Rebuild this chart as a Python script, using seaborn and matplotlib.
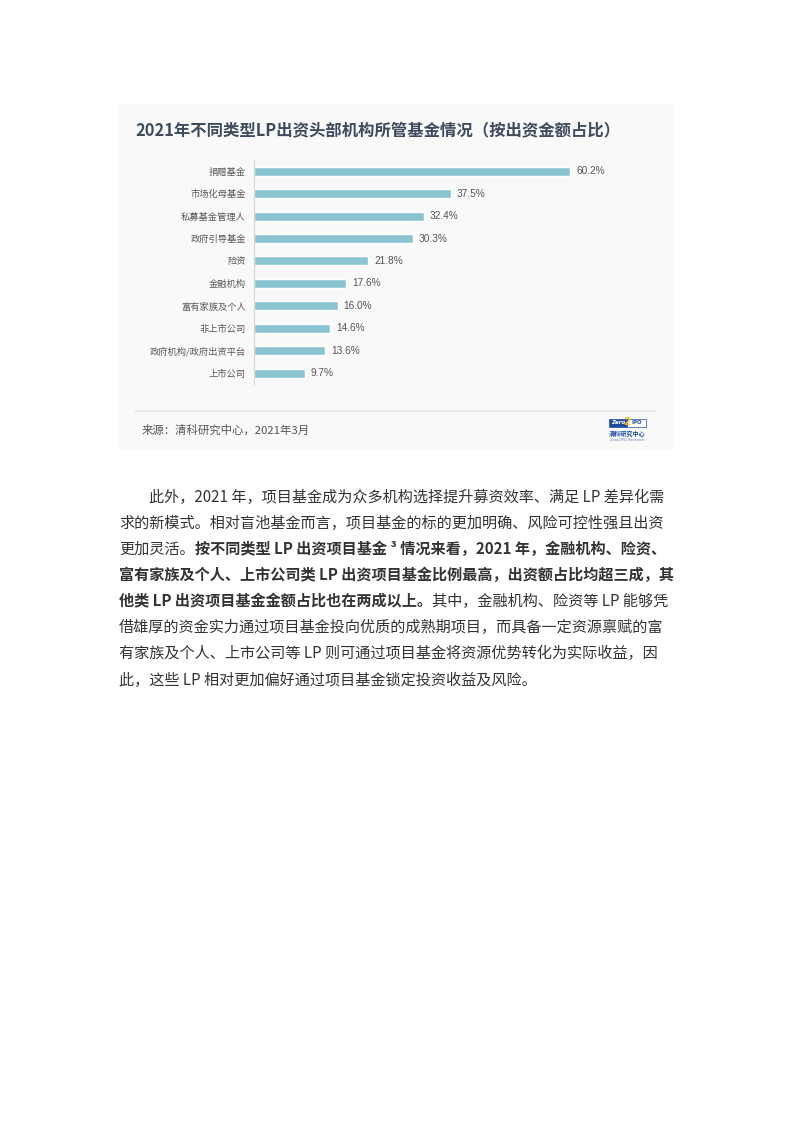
import matplotlib
matplotlib.use('Agg')
import matplotlib.pyplot as plt
from matplotlib.patches import Rectangle
from matplotlib.lines import Line2D
import seaborn as sns
import pandas as pd

W, H = 793, 1122
CJK = ['Noto Sans CJK SC', 'DejaVu Sans']

# ── data ──
title = "2021年不同类型LP出资头部机构所管基金情况（按出资金额占比）"
categories = ["捐赠基金", "市场化母基金", "私募基金管理人", "政府引导基金", "险资",
              "金融机构", "富有家族及个人", "非上市公司", "政府机构/政府出资平台", "上市公司"]
shares = [60.2, 37.5, 32.4, 30.3, 21.8, 17.6, 16.0, 14.6, 13.6, 9.7]
source = "来源：清科研究中心，2021年3月"

# paragraph lines as (text, bold) runs
para = [
    [("此外，2021 年，项目基金成为众多机构选择提升募资效率、满足 LP 差异化需", False)],
    [("求的新模式。相对盲池基金而言，项目基金的标的更加明确、风险可控性强且出资", False)],
    [("更加灵活。", False), ("按不同类型 LP 出资项目基金 ³ 情况来看，2021 年，金融机构、险资、", True)],
    [("富有家族及个人、上市公司类 LP 出资项目基金比例最高，出资额占比均超三成，其", True)],
    [("他类 LP 出资项目基金金额占比也在两成以上。", True), ("其中，金融机构、险资等 LP 能够凭", False)],
    [("借雄厚的资金实力通过项目基金投向优质的成熟期项目，而具备一定资源禀赋的富", False)],
    [("有家族及个人、上市公司等 LP 则可通过项目基金将资源优势转化为实际收益，因", False)],
    [("此，这些 LP 相对更加偏好通过项目基金锁定投资收益及风险。", False)],
]

df = pd.DataFrame({'cat': categories, 'share': shares})

sns.set_style('white')
plt.rcParams['font.family'] = CJK

def fx(x):
    return x / W

def fy(y):
    return 1 - y / H

fig = plt.figure(figsize=(W / 100, H / 100), dpi=100)
fig.patch.set_facecolor('white')

# ── chart card ──
fig.patches.append(Rectangle((fx(119), fy(449)), fx(673) - fx(119), fy(104) - fy(449),
                             transform=fig.transFigure, facecolor='#f9f9fa',
                             edgecolor='none', zorder=-5))
fig.text(fx(135), fy(131), title, fontsize=11.8, fontweight='bold', color='#3d4b5c',
         va='center', ha='left')

ax = fig.add_axes([fx(253.5), fy(384.3), fx(655) - fx(253.5), fy(160) - fy(384.3)])
ax.set_facecolor('none')
sns.barplot(data=df, x='share', y='cat', orient='h', color='#8bc4d1', saturation=1,
            width=0.40, ax=ax)
ax.set_xlim(0, 76.3)
ax.set_ylim(9.5, -0.5)
ax.bar_label(ax.containers[0], labels=[f"{v:.1f}%" for v in shares], padding=4.3,
             fontsize=7.3, color='#555555', family=['Liberation Sans', 'DejaVu Sans'])
for s in ['top', 'right', 'bottom']:
    ax.spines[s].set_visible(False)
ax.spines['left'].set_color('#d4d4d4')
ax.spines['left'].set_linewidth(0.8)
ax.set_xticks([])
ax.set_xlabel('')
ax.set_ylabel('')
ax.tick_params(axis='y', length=0, pad=5.5, labelsize=6.7, labelcolor='#595959')

# footer of the card
fig.add_artist(Line2D([fx(135), fx(655)], [fy(411), fy(411)], transform=fig.transFigure,
                      color='#e6e9ed', lw=1.3))
fig.text(fx(142), fy(430), source, fontsize=8.2, color='#555555', va='center', ha='left')

# logo (approximation)
fig.patches.append(Rectangle((fx(609), fy(427)), fx(627) - fx(609), fy(419) - fy(427),
                             transform=fig.transFigure, facecolor='#1f4d9c', edgecolor='#1f4d9c',
                             lw=0.5, zorder=2))
fig.patches.append(Rectangle((fx(627), fy(427)), fx(646) - fx(627), fy(419) - fy(427),
                             transform=fig.transFigure, facecolor='white', edgecolor='#1f4d9c',
                             lw=0.5, zorder=2))
fig.text(fx(618), fy(423), "Zero", fontsize=4, color='white', style='italic',
         fontweight='bold', ha='center', va='center', family='DejaVu Sans', zorder=3)
fig.text(fx(637), fy(423), "IPO", fontsize=4, color='#1f4d9c', fontweight='bold',
         ha='center', va='center', family='DejaVu Sans', zorder=3)
fig.text(fx(627), fy(422), "2", fontsize=7, color='#f2b322', fontweight='bold',
         ha='center', va='center', family='DejaVu Sans', zorder=4)
fig.text(fx(627.5), fy(434), "清科研究中心", fontsize=4.4, color='#1f4d9c', fontweight='bold',
         ha='center', va='center')
fig.text(fx(627.5), fy(440), "Zero2IPO Research", fontsize=2.6, color='#6a7fae',
         ha='center', va='center', family='DejaVu Sans')

# ── paragraph ──
renderer = fig.canvas.get_renderer()
y0, step = 496.3, 26.1
for i, runs in enumerate(para):
    x = 149.3 if i == 0 else 119
    yb = y0 + step * i + 5.5
    for txt, bold in runs:
        t = fig.text(fx(x), fy(yb), txt, fontsize=10.9, color='#333333',
                     fontweight='bold' if bold else 'normal', va='baseline', ha='left')
        x += t.get_window_extent(renderer).width

fig.savefig('out.png', dpi=100)
